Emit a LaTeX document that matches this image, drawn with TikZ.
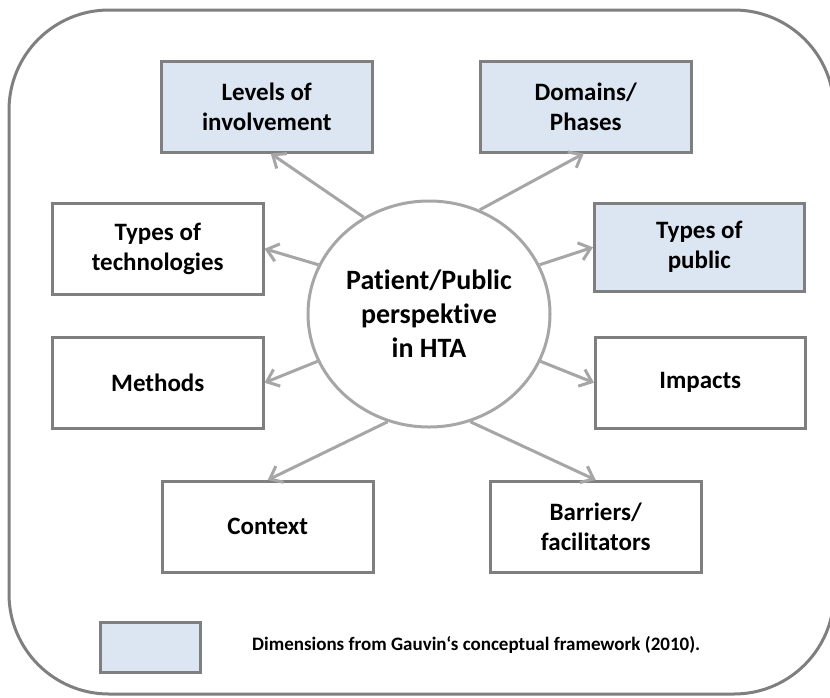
\documentclass[tikz,border=0pt]{standalone}
\usepackage{fontspec}
\setmainfont{Carlito}[Ligatures=NoCommon]
\usetikzlibrary{shapes.geometric,arrows.meta}
\definecolor{boxblue}{HTML}{DCE6F2}
\definecolor{boxgray}{HTML}{7F7F7F}
\definecolor{arrgray}{HTML}{A6A6A6}
\tikzset{
  dimbox/.style={draw=boxgray, line width=2.5pt, fill=white, anchor=north west,
    minimum width=211pt, minimum height=91pt, inner sep=0pt, align=center,
    font=\fontsize{25}{30}\selectfont\bfseries},
  gauvin/.style={dimbox, fill=boxblue},
  arr/.style={draw=arrgray, line width=3pt, -{Straight Barb[length=11pt,width=18pt,line width=3pt]}}
}
\begin{document}
\begin{tikzpicture}[x=1pt,y=-1pt]
\useasboundingbox (0,0) rectangle (830,697);
\begin{scope}
\clip (0,0) rectangle (830,697);
\draw[boxgray, line width=3pt, rounded corners=100pt] (9,10) rectangle (834,694);
\end{scope}

\node[ellipse, draw=arrgray, line width=3pt, minimum width=242pt, minimum height=226pt,
  inner sep=0pt, align=center, font=\fontsize{28}{34}\selectfont\bfseries]
  (c) at (429,314) {Patient/Public\\perspektive\\in HTA};

\node[gauvin] (lev) at (160,60) {Levels of\\involvement};
\node[gauvin] (dom) at (479,60) {Domains/\\Phases};
\node[dimbox] (tech) at (51,202) {Types of\\technologies};
\node[gauvin, minimum height=88pt, minimum width=210pt] (pub) at (593,202) {Types of\\public};
\node[dimbox] (meth) at (51,336) {Methods};
\node[dimbox, minimum width=210pt] (imp) at (594,336) {Impacts};
\node[dimbox] (ctx) at (161,480) {Context};
\node[dimbox] (bar) at (489,480) {Barriers/\\facilitators};

\draw[arr] (c.124.6) -- ([xshift=4pt]lev.south);
\draw[arr] (c.64.8) -- ([xshift=-2pt]dom.south);
\draw[arr] (c.156.2) -- (tech.east);
\draw[arr] (c.203.4) -- (meth.east);
\draw[arr] (c.24.8) -- (pub.west);
\draw[arr] (c.337.1) -- (imp.west);
\draw[arr] (c.249) -- (ctx.north);
\draw[arr] (c.291) -- (bar.north);

\node[draw=boxgray, line width=2.5pt, fill=boxblue, anchor=north west,
  minimum width=100pt, minimum height=50pt, inner sep=0pt] (leg) at (99,621) {};
\node[anchor=west, inner sep=0pt, font=\fontsize{19}{23}\selectfont\bfseries]
  (legt) at (252,645) {Dimensions from Gauvin‘s conceptual framework (2010).};
\end{tikzpicture}
\end{document}
